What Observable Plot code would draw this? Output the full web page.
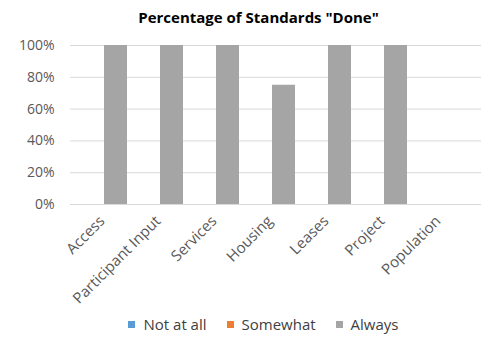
<!DOCTYPE html>
<html>
<head>
<meta charset="utf-8">
<script src="https://cdn.jsdelivr.net/npm/d3@7"></script>
<script src="https://cdn.jsdelivr.net/npm/@observablehq/plot@0.6"></script>
<style>
  html, body { margin: 0; padding: 0; background: #fff; }
  body { width: 481px; height: 355px; overflow: hidden; font-family: "Open Sans", sans-serif; }
  #title { height: 30px; line-height: 34px; text-align: center; font-weight: bold; font-size: 15px; color: #000; padding-left: 36px; }
  #legend { display: flex; justify-content: center; gap: 20px; font-size: 15px; color: #404040; margin-top: 4px; padding-left: 46px; }
  #legend span.sw { display: inline-block; width: 7px; height: 7px; margin-right: 8px; vertical-align: 2px; }
</style>
</head>
<body>
<div id="title">Percentage of Standards "Done"</div>
<div id="chart"></div>
<div id="legend"></div>
<script>
const categories = ["Access", "Participant Input", "Services", "Housing", "Leases", "Project", "Population"];
const seriesNames = ["Not at all", "Somewhat", "Always"];
const seriesColors = ["#5b9bd5", "#ed7d31", "#a5a5a5"];
const notAtAll = [0, 0, 0, 0, 0, 0, 0];
const somewhat = [0, 0, 0, 0, 0, 0, 0];
const always = [1, 1, 1, 0.75, 1, 1, 0];
const yTicks = [0, 0.2, 0.4, 0.6, 0.8, 1];

const seriesValues = [notAtAll, somewhat, always];
const rows = [];
seriesNames.forEach((s, i) => categories.forEach((c, j) => rows.push({category: c, series: s, value: seriesValues[i][j]})));

const chart = Plot.plot({
  width: 481,
  height: 280,
  marginTop: 15,
  marginBottom: 106,
  marginLeft: 70,
  marginRight: 0,
  style: {fontFamily: "Open Sans, sans-serif", fontSize: "14px", color: "#595959", background: "#fff"},
  x: {domain: categories, range: [70, 497], padding: 0.59, label: null, axis: null},
  y: {domain: [0, 1], label: null},
  color: {domain: seriesNames, range: seriesColors},
  marks: [
    Plot.gridY(yTicks, {stroke: "#d9d9d9", strokeOpacity: 1, strokeWidth: 1}),
    Plot.barY(rows.filter(d => d.value > 0), {x: "category", y: "value", fill: "series", order: seriesNames}),
    Plot.axisY(yTicks, {tickFormat: d3.format(".0%"), tickSize: 0, tickPadding: 16, fontSize: 14}),
    Plot.text(categories, {x: d => d, y: () => 0, text: d => d, rotate: -45, textAnchor: "end", lineAnchor: "top", dx: -18, dy: 10, fontSize: 15, fill: "#595959"})
  ]
});
document.getElementById("chart").appendChild(chart);

const legend = document.getElementById("legend");
seriesNames.forEach((s, i) => {
  const item = document.createElement("div");
  item.innerHTML = `<span class="sw" style="background:${seriesColors[i]}"></span>${s}`;
  legend.appendChild(item);
});
</script>
</body>
</html>
